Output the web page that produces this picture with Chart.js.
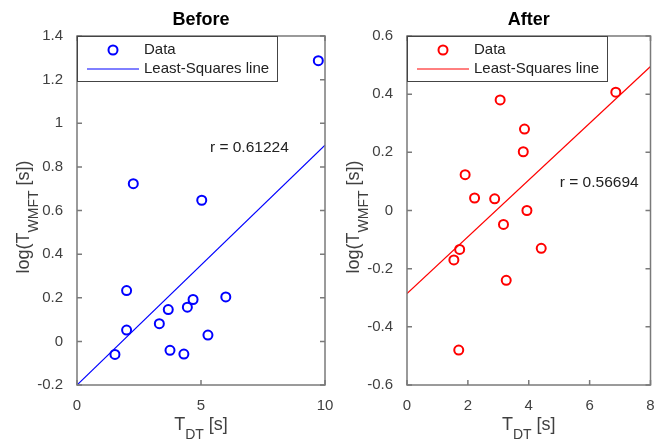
<!DOCTYPE html>
<html>
<head>
<meta charset="utf-8">
<script src="https://cdn.jsdelivr.net/npm/chart.js@4.4.0/dist/chart.umd.min.js"></script>
<style>
    html, body { margin: 0; padding: 0; background: #fff; }
    #wrap { position: relative; width: 657px; height: 444px; }
    canvas { position: absolute; left: 0; top: 0; }
</style>
</head>
<body>
<div id="wrap">
    <canvas id="before" width="657" height="444"></canvas>
    <canvas id="after" width="657" height="444"></canvas>
</div>
<script>
// Before panel data
const beforeX = [1.53, 2.0, 2.0, 2.27, 3.32, 3.68, 3.75, 4.31, 4.45, 4.68, 5.03, 5.28, 6.0, 9.73];
const beforeY = [-0.06, 0.052, 0.233, 0.723, 0.081, 0.146, -0.041, -0.058, 0.157, 0.192, 0.647, 0.029, 0.204, 1.287];
const beforeFitX = [0, 10];
const beforeFitY = [-0.2, 0.9];
const beforeXTicks = [0, 5, 10];
const beforeYTicks = [-0.2, 0, 0.2, 0.4, 0.6, 0.8, 1, 1.2, 1.4];
const beforeR = 'r = 0.61224';
const beforeRAt = [5.36, 0.89];

// After panel data
const afterX = [1.54, 1.70, 1.73, 1.91, 2.22, 2.88, 3.06, 3.17, 3.26, 3.82, 3.86, 3.94, 4.41, 6.86];
const afterY = [-0.17, -0.48, -0.134, 0.123, 0.043, 0.04, 0.38, -0.048, -0.24, 0.202, 0.28, 0.0, -0.13, 0.407];
const afterFitX = [0, 8];
const afterFitY = [-0.286, 0.495];
const afterXTicks = [0, 2, 4, 6, 8];
const afterYTicks = [-0.6, -0.4, -0.2, 0, 0.2, 0.4, 0.6];
const afterR = 'r = 0.56694';
const afterRAt = [5.02, 0.097];

const FONT = '"Liberation Sans", Arial, sans-serif';
const AXIS_COLOR = '#7a7a7a';
const TEXT_COLOR = '#404040';

function toPoints(xs, ys) {
    return xs.map((x, i) => ({ x: x, y: ys[i] }));
}

// label with a subscript part, centered on (x, y) baseline
function drawSubLabel(ctx, parts, x, y, rotate) {
    const mainFont = '18px ' + FONT;
    const subFont = '14px ' + FONT;
    ctx.save();
    ctx.translate(x, y);
    if (rotate) ctx.rotate(-Math.PI / 2);
    ctx.fillStyle = TEXT_COLOR;
    ctx.textAlign = 'left';
    ctx.textBaseline = 'alphabetic';
    ctx.font = mainFont; const w1 = ctx.measureText(parts[0]).width;
    ctx.font = subFont; const w2 = ctx.measureText(parts[1]).width;
    ctx.font = mainFont; const w3 = ctx.measureText(parts[2]).width;
    let cx = -(w1 + w2 + w3) / 2;
    ctx.font = mainFont; ctx.fillText(parts[0], cx, 0); cx += w1;
    ctx.font = subFont; ctx.fillText(parts[1], cx, 9); cx += w2;
    ctx.font = mainFont; ctx.fillText(parts[2], cx, 0);
    ctx.restore();
}

// box, inward ticks, titles, legend, r text
const decoPlugin = {
    id: 'deco',
    afterDraw(chart, args, opts) {
        const ctx = chart.ctx;
        const a = chart.chartArea;
        const xs = chart.scales.x, ys = chart.scales.y;

        ctx.save();
        ctx.strokeStyle = AXIS_COLOR;
        ctx.lineWidth = 1.5;
        ctx.strokeRect(a.left, a.top, a.right - a.left, a.bottom - a.top);
        ctx.beginPath();
        xs.ticks.forEach(t => {
            const px = xs.getPixelForValue(t.value);
            ctx.moveTo(px, a.bottom); ctx.lineTo(px, a.bottom - 5);
            ctx.moveTo(px, a.top); ctx.lineTo(px, a.top + 5);
        });
        ys.ticks.forEach(t => {
            const py = ys.getPixelForValue(t.value);
            ctx.moveTo(a.left, py); ctx.lineTo(a.left + 5, py);
            ctx.moveTo(a.right, py); ctx.lineTo(a.right - 5, py);
        });
        ctx.stroke();

        // title
        ctx.fillStyle = '#000';
        ctx.font = 'bold 18px ' + FONT;
        ctx.textAlign = 'center';
        ctx.textBaseline = 'alphabetic';
        ctx.fillText(opts.title, (a.left + a.right) / 2, 25);

        // axis labels
        drawSubLabel(ctx, ['T', 'DT', ' [s]'], (a.left + a.right) / 2, 430, false);
        drawSubLabel(ctx, ['log(T', 'WMFT', ' [s])'], a.left - 48, 217, true);

        // r text
        ctx.fillStyle = '#222';
        ctx.font = '15.5px ' + FONT;
        ctx.textAlign = 'left';
        ctx.textBaseline = 'middle';
        ctx.fillText(opts.rText, xs.getPixelForValue(opts.rAt[0]), ys.getPixelForValue(opts.rAt[1]));

        // legend
        const lx = a.left, ly = a.top, lw = 200, lh = 45;
        ctx.fillStyle = '#fff';
        ctx.fillRect(lx, ly, lw, lh);
        ctx.strokeStyle = '#444';
        ctx.lineWidth = 1;
        ctx.strokeRect(lx + 0.5, ly + 0.5, lw, lh);
        ctx.strokeStyle = opts.color;
        ctx.lineWidth = 2;
        ctx.beginPath();
        ctx.arc(lx + 36, ly + 14, 4.5, 0, Math.PI * 2);
        ctx.stroke();
        ctx.lineWidth = 1;
        ctx.beginPath();
        ctx.moveTo(lx + 10, ly + 33); ctx.lineTo(lx + 62, ly + 33);
        ctx.stroke();
        ctx.fillStyle = '#222';
        ctx.font = '15px ' + FONT;
        ctx.textBaseline = 'middle';
        ctx.fillText('Data', lx + 67, ly + 14);
        ctx.fillText('Least-Squares line', lx + 67, ly + 33);
        ctx.restore();
    }
};

function makePanel(id, cfg) {
    const tickFont = { family: FONT, size: 15 };
    return new Chart(document.getElementById(id), {
        type: 'scatter',
        data: {
            datasets: [
                {
                    data: toPoints(cfg.x, cfg.y),
                    borderColor: cfg.color,
                    backgroundColor: 'rgba(0,0,0,0)',
                    borderWidth: 2,
                    pointRadius: 4.5,
                    pointHoverRadius: 4.5
                },
                {
                    data: toPoints(cfg.fitX, cfg.fitY),
                    showLine: true,
                    borderColor: cfg.color,
                    borderWidth: 1.2,
                    pointRadius: 0
                }
            ]
        },
        options: {
            responsive: false,
            animation: false,
            devicePixelRatio: 1,
            layout: { padding: cfg.padding },
            plugins: {
                legend: { display: false },
                tooltip: { enabled: false },
                title: { display: false },
                deco: { title: cfg.title, rText: cfg.rText, rAt: cfg.rAt, color: cfg.color }
            },
            scales: {
                x: {
                    type: 'linear',
                    min: cfg.xTicks[0],
                    max: cfg.xTicks[cfg.xTicks.length - 1],
                    grid: { display: false },
                    border: { display: false },
                    afterBuildTicks: s => { s.ticks = cfg.xTicks.map(v => ({ value: v })); },
                    afterFit: s => { s.height = 59; s.paddingLeft = 0; s.paddingRight = 0; },
                    ticks: {
                        font: tickFont,
                        color: TEXT_COLOR,
                        padding: 4,
                        maxRotation: 0,
                        callback: v => String(v)
                    }
                },
                y: {
                    type: 'linear',
                    min: cfg.yTicks[0],
                    max: cfg.yTicks[cfg.yTicks.length - 1],
                    grid: { display: false },
                    border: { display: false },
                    afterBuildTicks: s => { s.ticks = cfg.yTicks.map(v => ({ value: v })); },
                    afterFit: s => { s.width = 77; s.paddingTop = 0; s.paddingBottom = 0; },
                    ticks: {
                        font: tickFont,
                        color: TEXT_COLOR,
                        padding: 6,
                        callback: v => String(Math.round(v * 10) / 10)
                    }
                }
            }
        },
        plugins: [decoPlugin]
    });
}

makePanel('before', {
    x: beforeX, y: beforeY, fitX: beforeFitX, fitY: beforeFitY,
    xTicks: beforeXTicks, yTicks: beforeYTicks,
    rText: beforeR, rAt: beforeRAt,
    title: 'Before', color: '#0000ff',
    padding: { left: 0, right: 332, top: 36, bottom: 0 }
});

makePanel('after', {
    x: afterX, y: afterY, fitX: afterFitX, fitY: afterFitY,
    xTicks: afterXTicks, yTicks: afterYTicks,
    rText: afterR, rAt: afterRAt,
    title: 'After', color: '#ff0000',
    padding: { left: 330, right: 2, top: 36, bottom: 0 }
});
</script>
</body>
</html>
